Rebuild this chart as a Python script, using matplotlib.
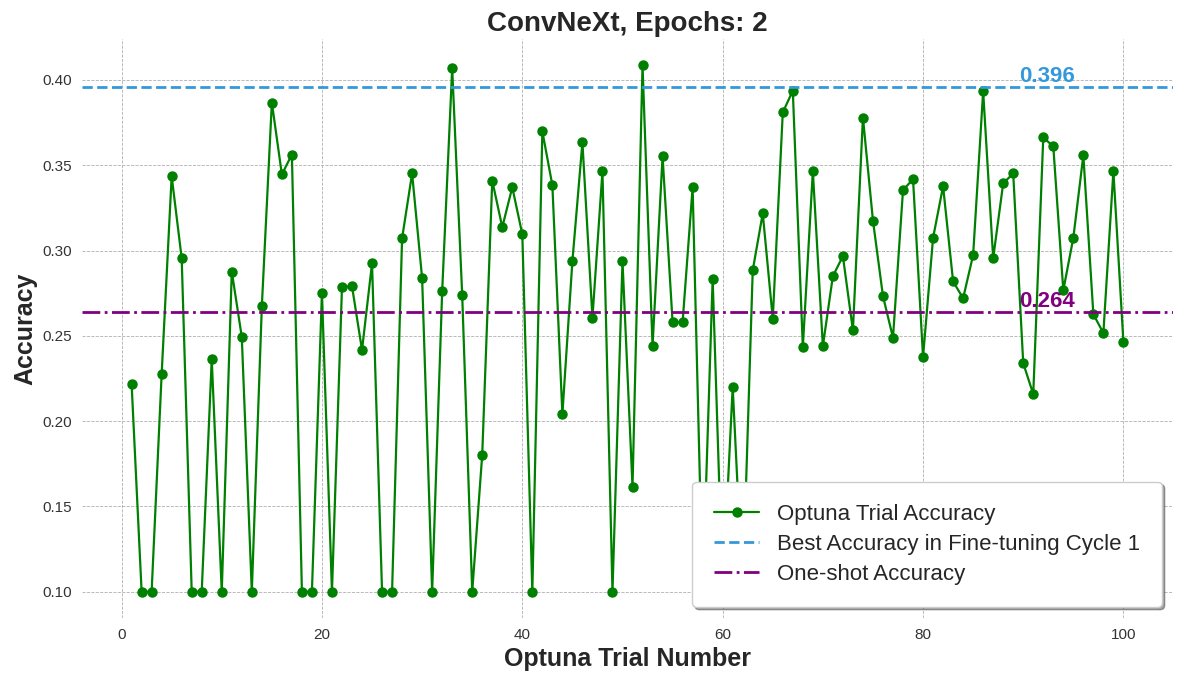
import matplotlib
matplotlib.use("Agg")
import matplotlib.pyplot as plt
import seaborn as sns

trials = list(range(1, 101))
accuracy = [
    0.222, 0.100, 0.100, 0.2275, 0.3436, 0.2955, 0.100, 0.100, 0.2363, 0.100,
    0.2877, 0.2493, 0.100, 0.2673, 0.3868, 0.3446, 0.3563, 0.100, 0.100, 0.2754,
    0.100, 0.2785, 0.2791, 0.2417, 0.2925, 0.100, 0.100, 0.3072, 0.3452, 0.2838,
    0.100, 0.276, 0.4069, 0.274, 0.100, 0.1803, 0.341, 0.3137, 0.3371, 0.3095,
    0.100, 0.3699, 0.3383, 0.2041, 0.2938, 0.3634, 0.2606, 0.3465, 0.100, 0.2938,
    0.1615, 0.4086, 0.244, 0.3553, 0.258, 0.258, 0.3371, 0.100, 0.2834, 0.100,
    0.220, 0.100, 0.2884, 0.3218, 0.260, 0.381, 0.3937, 0.2434, 0.3465, 0.244,
    0.285, 0.2967, 0.2532, 0.378, 0.3176, 0.2733, 0.2489, 0.3354, 0.3419, 0.2376,
    0.3074, 0.3377, 0.2819, 0.272, 0.2974, 0.3933, 0.2955, 0.3394, 0.3452, 0.234,
    0.2158, 0.3663, 0.3611, 0.2767, 0.3074, 0.3559, 0.2627, 0.2516, 0.3465, 0.2463,
]
best_acc = 0.396
oneshot_acc = 0.264

title = "ConvNeXt, Epochs: 2"
xlabel = "Optuna Trial Number"
ylabel = "Accuracy"
labels = ["Optuna Trial Accuracy", "Best Accuracy in Fine-tuning Cycle 1", "One-shot Accuracy"]

sns.set_style("whitegrid")
plt.rcParams['font.family'] = ['Liberation Sans', 'DejaVu Sans']

fig, ax = plt.subplots(figsize=(11.84, 6.84), dpi=100)

ax.plot(trials, accuracy, marker='o', color='green', linestyle='-', markersize=6.5,
        linewidth=1.6, label=labels[0])
ax.axhline(best_acc, color='#3498db', linestyle='--', linewidth=2, label=labels[1])
ax.axhline(oneshot_acc, color='purple', linestyle='-.', linewidth=2, label=labels[2])

ax.text(89.6, best_acc, f"{best_acc:.3f}", color='#3498db', fontsize=16,
        fontweight='bold', ha='left', va='bottom')
ax.text(89.6, oneshot_acc, f"{oneshot_acc:.3f}", color='purple', fontsize=16,
        fontweight='bold', ha='left', va='bottom')

ax.set_title(title, fontsize=20, fontweight='bold')
ax.set_xlabel(xlabel, fontsize=18, fontweight='bold')
ax.set_ylabel(ylabel, fontsize=18, fontweight='bold')
ax.tick_params(labelsize=11, colors='#333333')
ax.grid(True, linestyle='--', linewidth=0.6, color='#b0b0b0')
for s in ax.spines.values():
    s.set_visible(False)

leg = ax.legend(loc='lower right', fontsize=16, frameon=True, shadow=True,
                fancybox=True, framealpha=1, borderpad=1, labelspacing=0.4)
leg.get_frame().set_edgecolor('#cccccc')

fig.subplots_adjust(left=82/1184, right=1173/1184, top=1-39/684, bottom=1-618/684)
fig.savefig("out.png", dpi=100)
